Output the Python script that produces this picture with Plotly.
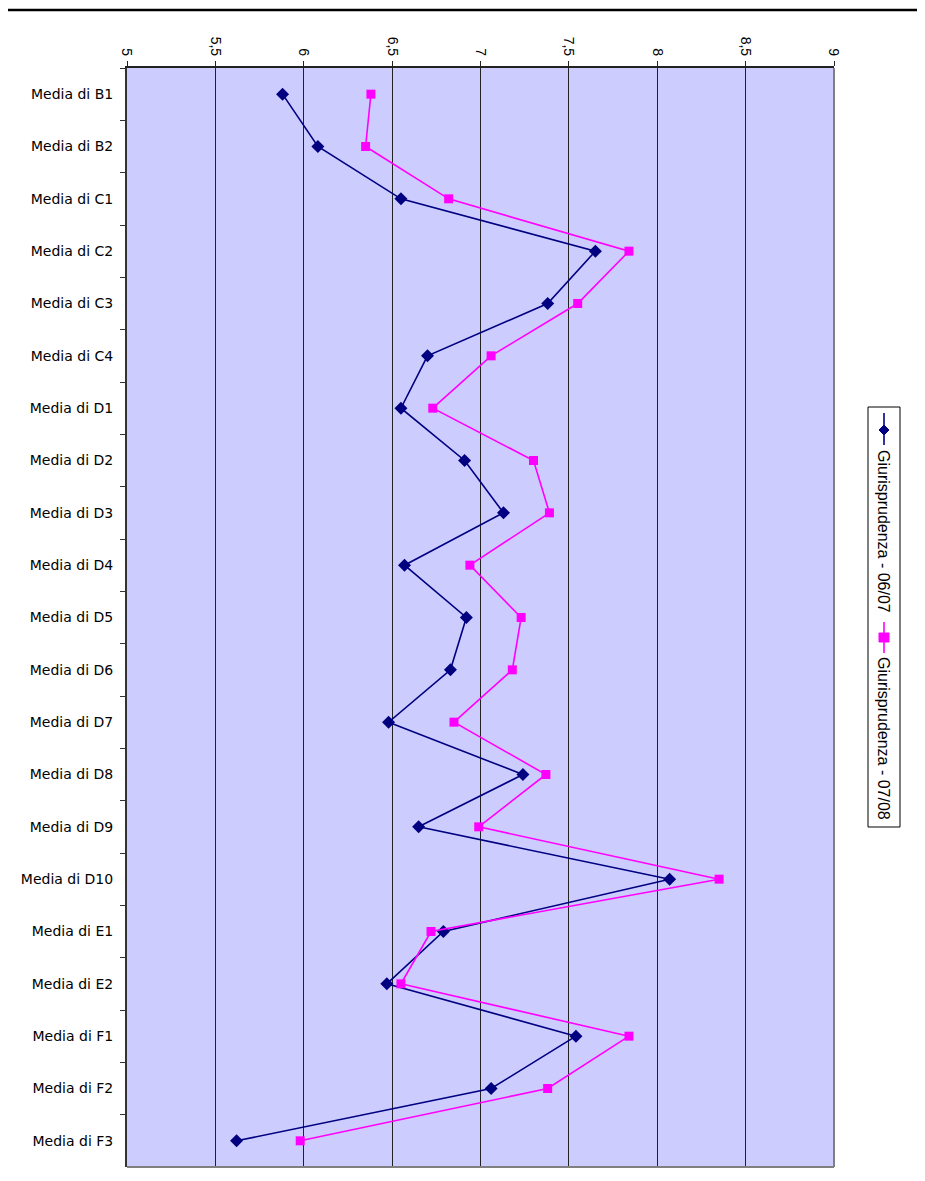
import plotly.graph_objects as go

categories = ["Media di B1", "Media di B2", "Media di C1", "Media di C2", "Media di C3",
              "Media di C4", "Media di D1", "Media di D2", "Media di D3", "Media di D4",
              "Media di D5", "Media di D6", "Media di D7", "Media di D8", "Media di D9",
              "Media di D10", "Media di E1", "Media di E2", "Media di F1", "Media di F2",
              "Media di F3"]
series_0607 = [5.88, 6.08, 6.55, 7.65, 7.38, 6.70, 6.55, 6.91, 7.13, 6.57, 6.92,
               6.83, 6.48, 7.24, 6.65, 8.07, 6.79, 6.47, 7.54, 7.06, 5.62]
series_0708 = [6.38, 6.35, 6.82, 7.84, 7.55, 7.06, 6.73, 7.30, 7.39, 6.94, 7.23,
               7.18, 6.85, 7.37, 6.99, 8.35, 6.72, 6.55, 7.84, 7.38, 5.98]
name_0607 = "Giurisprudenza - 06/07"
name_0708 = "Giurisprudenza - 07/08"
tick_vals = [5, 5.5, 6, 6.5, 7, 7.5, 8, 8.5, 9]
tick_text = ["5", "5,5", "6", "6,5", "7", "7,5", "8", "8,5", "9"]

OFF = 8  # page body margin
PAGE_W, PAGE_H = 925, 1181
W, H = PAGE_W - OFF, PAGE_H - OFF
# plot area in page pixels
L, R, T, B = 127, 834, 68, 1167
PW, PH = R - L, B - T


def px_x(px):
    return (px - L) / PW


def px_y(py):
    return (B - py) / PH


NAVY = "#000080"
MAG = "#FF00FF"

fig = go.Figure()
fig.add_trace(go.Scatter(x=series_0607, y=categories, mode="lines+markers", name=name_0607,
                         line=dict(color=NAVY, width=1.6),
                         marker=dict(symbol="diamond", size=10, color=NAVY)))
fig.add_trace(go.Scatter(x=series_0708, y=categories, mode="lines+markers", name=name_0708,
                         line=dict(color=MAG, width=1.6),
                         marker=dict(symbol="square", size=9, color=MAG)))

shapes = []
# page top rule
shapes.append(dict(type="line", xref="paper", yref="paper", x0=px_x(OFF), x1=px_x(PAGE_W),
                   y0=px_y(10), y1=px_y(10), line=dict(color="black", width=2.5)))
# right and bottom border (gray)
shapes.append(dict(type="line", xref="paper", yref="paper", x0=1, x1=1, y0=0, y1=1,
                   line=dict(color="#808080", width=2)))
shapes.append(dict(type="line", xref="paper", yref="paper", x0=0, x1=1, y0=0, y1=0,
                   line=dict(color="#808080", width=2)))
# legend box
shapes.append(dict(type="rect", xref="paper", yref="paper", x0=px_x(868), x1=px_x(900),
                   y0=px_y(827), y1=px_y(407), line=dict(color="black", width=1),
                   fillcolor="white"))
lx = 884
# navy entry
shapes.append(dict(type="line", xref="paper", yref="paper", x0=px_x(lx), x1=px_x(lx),
                   y0=px_y(445), y1=px_y(413), line=dict(color=NAVY, width=1.6)))
shapes.append(dict(type="path", xref="paper", yref="paper",
                   path="M {a},{b} L {c},{d} L {a},{e} L {f},{d} Z".format(
                       a=px_x(lx), b=px_y(425), c=px_x(lx + 5), d=px_y(430),
                       e=px_y(435), f=px_x(lx - 5)),
                   fillcolor=NAVY, line=dict(color=NAVY, width=1)))
# magenta entry
shapes.append(dict(type="line", xref="paper", yref="paper", x0=px_x(lx), x1=px_x(lx),
                   y0=px_y(653), y1=px_y(622), line=dict(color=MAG, width=1.6)))
shapes.append(dict(type="rect", xref="paper", yref="paper", x0=px_x(lx - 5), x1=px_x(lx + 5),
                   y0=px_y(642), y1=px_y(633), fillcolor=MAG, line=dict(color=MAG, width=1)))

annotations = [
    dict(text=name_0607, xref="paper", yref="paper", x=px_x(lx), y=px_y(531),
         textangle=90, showarrow=False, xanchor="center", yanchor="middle",
         font=dict(family="Liberation Sans, Arial", size=16, color="black")),
    dict(text=name_0708, xref="paper", yref="paper", x=px_x(lx), y=px_y(738),
         textangle=90, showarrow=False, xanchor="center", yanchor="middle",
         font=dict(family="Liberation Sans, Arial", size=16, color="black")),
]

fig.update_layout(
    width=W, height=H,
    margin=dict(l=L - OFF, r=PAGE_W - R, t=T - OFF, b=PAGE_H - B, pad=0, autoexpand=False),
    paper_bgcolor="white",
    plot_bgcolor="#CCCCFF",
    showlegend=False,
    shapes=shapes,
    annotations=annotations,
    font=dict(family="Liberation Sans, Arial", color="black"),
)
fig.update_xaxes(side="top", range=[5, 9], tickmode="array", tickvals=tick_vals,
                 ticktext=tick_text, tickangle=90, showgrid=True, gridcolor="#222222",
                 gridwidth=1, showline=True, linecolor="#222222", linewidth=2,
                 ticks="outside", ticklen=5, tickcolor="#222222", zeroline=False,
                 automargin=False,
                 tickfont=dict(family="Liberation Sans, Arial", size=14, color="black"))
fig.update_yaxes(type="category", range=[len(categories) - 0.5, -0.5], tickson="boundaries",
                 ticks="outside", ticklen=5, tickcolor="#333333", showline=True,
                 linecolor="#333333", linewidth=2, showgrid=False, zeroline=False,
                 ticklabelstandoff=9, automargin=False,
                 tickfont=dict(family="DejaVu Sans", size=14, color="black"))

fig.write_html("out.html")
